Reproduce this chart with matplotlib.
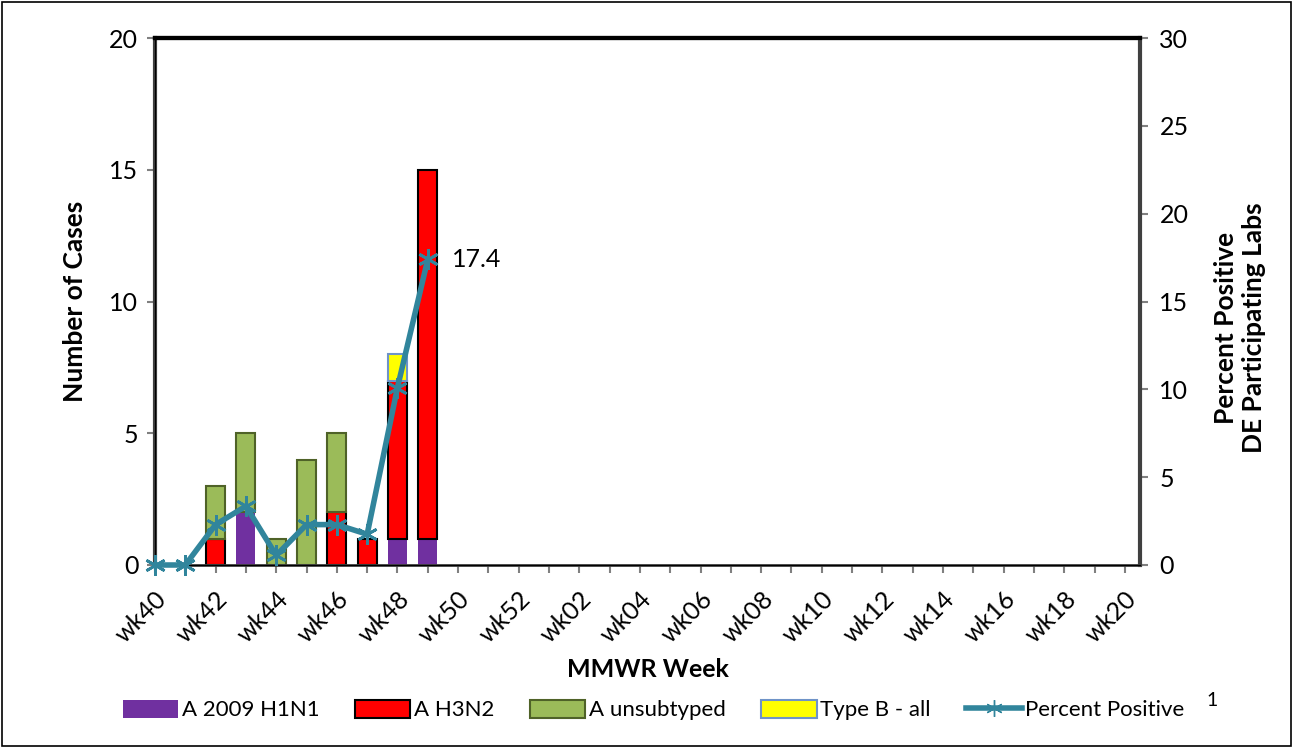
import matplotlib
matplotlib.use('Agg')
import matplotlib.pyplot as plt
from matplotlib.patches import Patch, Rectangle
from matplotlib.lines import Line2D
import numpy as np

plt.rcParams['font.family'] = ['Lato', 'DejaVu Sans']

weeks = ['wk%02d' % w for w in range(40, 53)] + ['wk%02d' % w for w in range(1, 21)]
h1n1 = [0, 0, 0, 2, 0, 0, 0, 0, 1, 1] + [0] * 23
h3n2 = [0, 0, 1, 0, 0, 0, 2, 1, 6, 14] + [0] * 23
unsub = [0, 0, 2, 3, 1, 4, 3, 0, 0, 0] + [0] * 23
type_b = [0, 0, 0, 0, 0, 0, 0, 0, 1, 0] + [0] * 23
pct_pos = [0, 0, 2.3, 3.35, 0.55, 2.3, 2.3, 1.75, 10.1, 17.4]


def nz(v):
    # empty weeks get no bar (so no edge line on the axis)
    v = np.array(v, dtype=float)
    return np.where(v > 0, v, np.nan)


fig = plt.figure(figsize=(12.94, 7.47), dpi=100)
fig.patches.append(Rectangle((0.0015, 0.002), 0.996, 0.995, transform=fig.transFigure,
                             fill=False, edgecolor='black', linewidth=1.2))
ax = fig.add_axes([155 / 1294, 1 - 565 / 747, 985 / 1294, 527 / 747])
x = np.arange(len(weeks))
w = 0.63

b1 = np.array(h1n1)
b2 = b1 + np.array(h3n2)
b3 = b2 + np.array(unsub)
ax.bar(x, nz(h1n1), w, color='#7030a0', edgecolor='none', zorder=2)
ax.bar(x, nz(h3n2), w, bottom=b1, color='#ff0000', edgecolor='black', linewidth=1.5, zorder=2)
ax.bar(x, nz(unsub), w, bottom=b2, color='#9bbb59', edgecolor='#4f6228', linewidth=1.5, zorder=2)
ax.bar(x, nz(type_b), w, bottom=b3, color='#ffff00', edgecolor='#6f93c8', linewidth=1.5, zorder=2)

ax.set_xlim(0, len(weeks) - 0.5)
ax.set_ylim(0, 20)
ax.set_yticks([0, 5, 10, 15, 20])
ax.set_xticks(x)
ax.set_xticklabels([lab if i % 2 == 0 else '' for i, lab in enumerate(weeks)],
                   rotation=45, ha='right', rotation_mode='anchor', fontsize=18)
ax.tick_params(axis='x', length=6, color='#808080', width=1.5, pad=10)
ax.tick_params(axis='y', length=6, color='#808080', width=1.5, labelsize=18, pad=6)
ax.set_ylabel('Number of Cases', fontsize=19, fontweight='bold', labelpad=16)
ax.set_xlabel('MMWR Week', fontsize=18, fontweight='bold', labelpad=8)
ax.spines['top'].set_linewidth(3)
ax.spines['top'].set_color('black')
ax.spines['left'].set_linewidth(3)
ax.spines['left'].set_color('#404040')
ax.spines['bottom'].set_linewidth(2)
ax.spines['bottom'].set_color('#404040')

ax2 = ax.twinx()
ax2.set_ylim(0, 30)
ax2.set_yticks([0, 5, 10, 15, 20, 25, 30])
ax2.plot(np.arange(len(pct_pos)), pct_pos, color='#31859c', linewidth=4,
         marker=(6, 2, 0), markersize=15, markeredgewidth=2, clip_on=False, zorder=3)
ax2.text(len(pct_pos) - 1 + 0.8, pct_pos[-1], '%.1f' % pct_pos[-1], fontsize=18,
         va='center', ha='left')
ax2.tick_params(axis='y', length=6, color='#808080', width=1.5, labelsize=18, pad=8)
ax2.spines['right'].set_linewidth(3)
ax2.spines['right'].set_color('#404040')
ax2.spines['top'].set_linewidth(3)
ax2.set_ylabel('Percent Positive\nDE Participating Labs', fontsize=19, fontweight='bold')
ax2.yaxis.set_label_coords(1.075, 0.45)

handles = [
    Patch(facecolor='#7030a0', edgecolor='none'),
    Patch(facecolor='#ff0000', edgecolor='black', linewidth=1.5),
    Patch(facecolor='#9bbb59', edgecolor='#4f6228', linewidth=1.5),
    Patch(facecolor='#ffff00', edgecolor='#6f93c8', linewidth=1.5),
    Line2D([], [], color='#31859c', linewidth=4, marker=(6, 2, 0), markersize=12),
]
labels = ['A 2009 H1N1', 'A H3N2', 'A unsubtyped', 'Type B - all', 'Percent Positive']
fig.legend(handles, labels, loc='center', ncol=5, bbox_to_anchor=(0.505, 1 - 710 / 747),
           frameon=False, fontsize=16, handlelength=2.5, handletextpad=0.15,
           columnspacing=1.6, handleheight=0.9)
fig.text(1212 / 1294, 1 - 700 / 747, '1', fontsize=14, ha='center', va='center')

fig.savefig('out.png', dpi=100)
